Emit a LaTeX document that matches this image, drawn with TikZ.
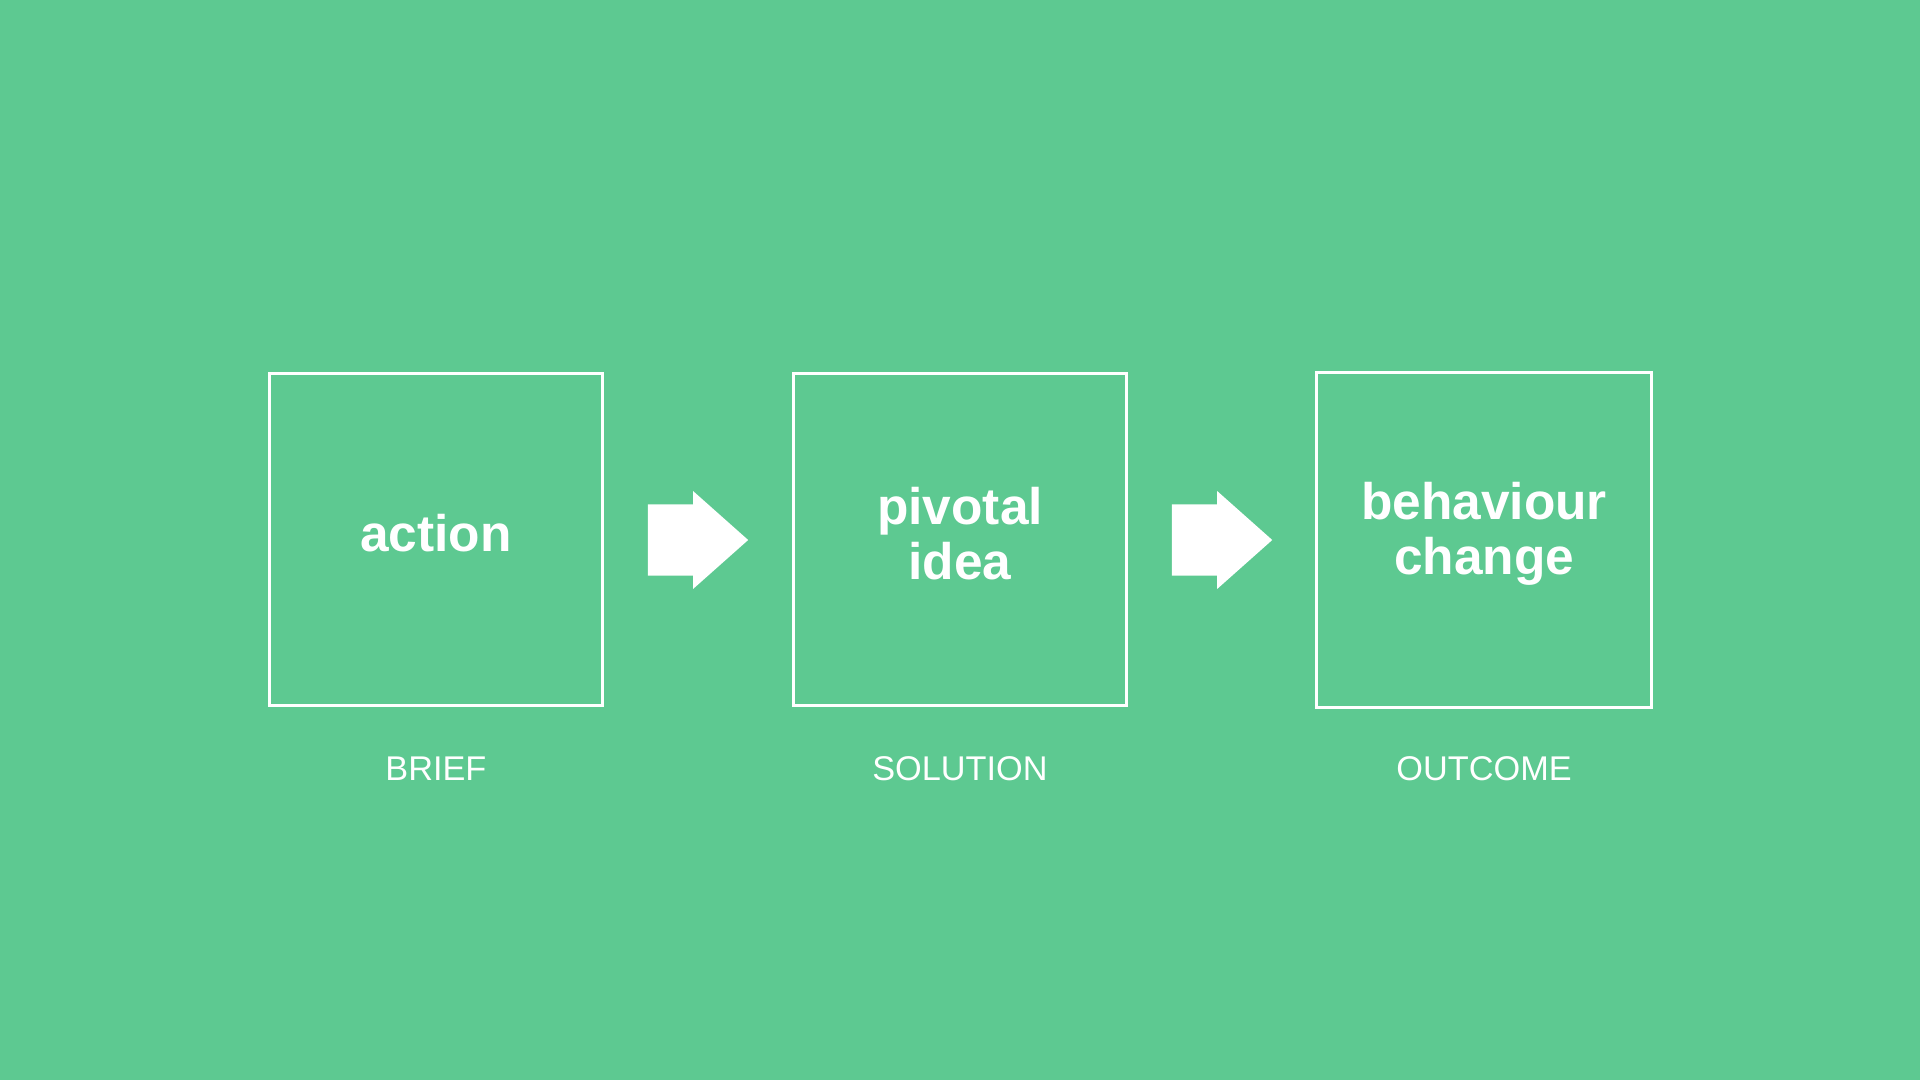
\documentclass[tikz,border=0pt]{standalone}
\usepackage{fontspec}
\setmainfont{Liberation Sans}
\usetikzlibrary{calc}
\definecolor{bg}{HTML}{5DC991}
\begin{document}
\begin{tikzpicture}[x=1pt,y=-1pt,
  box/.style={draw=white,line width=2.4pt,minimum width=272pt,minimum height=271pt,inner sep=0pt},
  big/.style={text=white,font=\fontsize{42}{45}\selectfont\bfseries,align=center},
  lab/.style={text=white,font=\fontsize{28}{30}\selectfont},
  arr/.style={fill=white}]
\fill[bg] (0,0) rectangle (1568,882);
\useasboundingbox (0,0) rectangle (1568,882);
\node[box] (b1) at (356,440.5) {};
\node[box] (b2) at (784,440.5) {};
\node[box,minimum width=274pt,minimum height=274pt] (b3) at (1212,441) {};
\node[big] (t1) at (356,435) {action};
\node[big] (t2) at (784,436) {pivotal\\idea};
\node[big] (t3) at (1212,436) {behaviour\\change};
\node[lab] (l1) at (356,628) {BRIEF};
\node[lab] (l2) at (784,628) {SOLUTION};
\node[lab] (l3) at (1212,628) {OUTCOME};
\coordinate (a1) at (529,441);
\coordinate (a2) at (957,441);
\foreach \a in {a1,a2}
  \fill[arr] ($(\a)+(0,-29)$) -- ++(37,0) -- ++(0,-11) -- ++(45,40) -- ++(-45,40) -- ++(0,-11) -- ++(-37,0) -- cycle;
\end{tikzpicture}
\end{document}
